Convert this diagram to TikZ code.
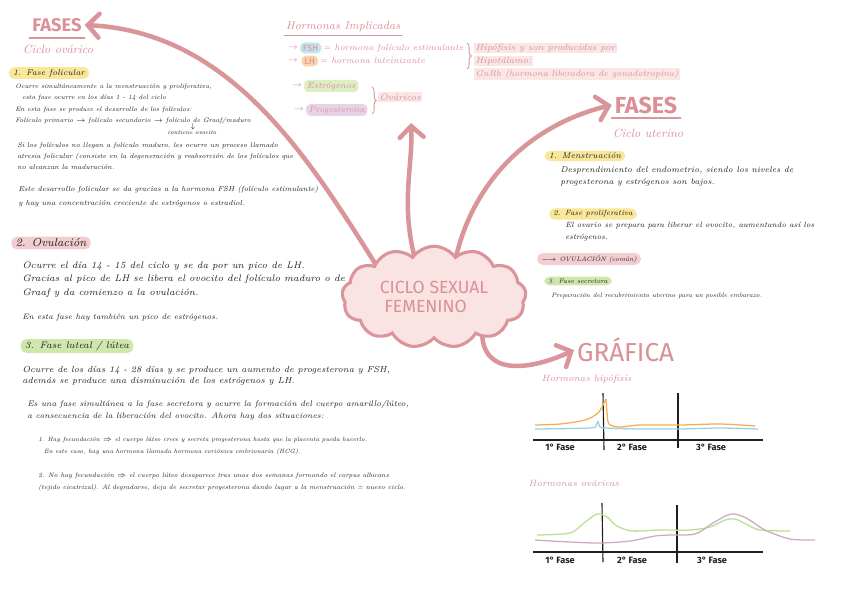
\documentclass[tikz,border=0pt]{standalone}
\usepackage{fontspec}
\setsansfont{Fira Sans}
\usetikzlibrary{shapes.symbols,arrows.meta,positioning,decorations.pathreplacing}
\definecolor{pinkline}{HTML}{D9959A}
\definecolor{pinktxt}{HTML}{DB8F97}
\definecolor{cloudfill}{HTML}{FAE3E3}
\definecolor{hlyellow}{HTML}{FAE79A}
\definecolor{hlpink}{HTML}{F3CDCF}
\definecolor{hlgreen}{HTML}{CFE7AC}
\definecolor{hlblue}{HTML}{C2E6EE}
\definecolor{hlorange}{HTML}{FCD3A8}
\definecolor{hlviolet}{HTML}{E8D3E6}
\definecolor{pinkbg}{HTML}{FBE6E6}
\definecolor{lhline}{HTML}{F6AD55}
\definecolor{fshline}{HTML}{97D3DC}
\definecolor{estline}{HTML}{BDDD92}
\definecolor{progline}{HTML}{CFA9BC}
\definecolor{ink}{HTML}{1E1E1E}
\newcommand{\fsz}[2]{\fontsize{#1}{#2}\selectfont}
\tikzset{
  title/.style={font=\sffamily\bfseries\fsz{13}{14},text=pinktxt,inner sep=2pt},
  subtitle/.style={font=\itshape\fsz{8.5}{10},text=pinktxt,inner sep=1pt},
  hl/.style={rounded corners=4pt,inner xsep=3pt,inner ysep=1.5pt,text=ink,font=\itshape\fsz{6}{7}},
  body/.style={anchor=north west,align=left,inner sep=0pt,text=ink,font=\itshape\fsz{5}{8}},
  htext/.style={inner sep=1pt,text=pinktxt,font=\itshape\fsz{6.5}{8}},
  hbox/.style={rounded corners=3pt,inner xsep=2pt,inner ysep=1.5pt,text=pinktxt,font=\sffamily\fsz{6.5}{8}},
  cloudbox/.style={cloud,cloud puffs=13,cloud puff arc=110,aspect=2,draw=pinkline,fill=cloudfill,
                   line width=2.2pt,minimum width=4.6cm,minimum height=2.3cm,align=center,
                   text=pinktxt,font=\sffamily\fsz{12.5}{13}},
  bigarr/.style={draw=pinkline,line width=3.2pt,line cap=round,
                 -{Straight Barb[length=8pt,width=17pt,line cap=round]}},
  uline/.style={draw=pinkline,line width=1.4pt,line cap=round},
  brc/.style={draw=pinkline,line width=0.6pt,decorate,decoration={brace,amplitude=3pt}},
  axis/.style={draw=ink,line width=0.8pt},
  glab/.style={font=\sffamily\bfseries\fsz{6.5}{7},text=ink,inner sep=0pt},
  curve/.style={line width=0.9pt},
}
\begin{document}
\begin{tikzpicture}[x=0.025cm,y=-0.025cm]
  \fill[white] (0,0) rectangle (848,600);
  \useasboundingbox (0,0) rectangle (848,600);

  %% Centre
  \node[cloudbox] (cloud) at (434,297) {CICLO SEXUAL\\\hspace*{-12pt}FEMENINO};

  %% Left: ciclo ovarico
  \node[title]                     (fasesL)  at (57,25)  {FASES};
  \draw[uline] ([yshift=-2pt]fasesL.south west) -- ([yshift=-2pt]fasesL.south east);
  \node[subtitle]                  (ovarico) at (58,49)  {Ciclo ovárico};
  \node[hl,fill=hlyellow]          (fol)     at (49,73)  {1. Fase folicular};
  \node[body,font=\itshape\fsz{4.6}{7.9}] (folA) at (15,84) {Ocurre simultáneamente a la menstruación y proliferativa,\\
    \hspace*{5pt}esta fase ocurre en los días 1 - 14 del ciclo\\
    En esta fase se produce el desarrollo de los folículos:\\
    Folículo primario $\rightarrow$ folículo secundario $\rightarrow$ folículo de Graaf/maduro};
  \node[body,anchor=center,font=\fsz{3.5}{4}] (ovoArr) at (193,127) {$\downarrow$};
  \node[body,anchor=center,font=\itshape\fsz{4.2}{5}] (ovo) at (192,133) {contiene ovocito};
  \node[body,font=\itshape\fsz{4.85}{8}] (folB) at (17,142) {Si los folículos no llegan a folículo maduro, les ocurre un proceso llamado\\
    atresia folicular (consiste en la degeneración y reabsorción de los folículos que\\
    no alcanzan la maduración.};
  \node[body,font=\itshape\fsz{5.2}{10}] (folC) at (18,186) {Este desarrollo folicular se da gracias a la hormona FSH (folículo estimulante)\\
    y hay una concentración creciente de estrógenos o estradiol.};

  \node[hl,fill=hlpink,font=\itshape\fsz{8.3}{9}] (ovu) at (51,243) {2. Ovulación};
  \node[body,font=\itshape\fsz{6.7}{9.3}] (ovuA) at (22,262) {Ocurre el día 14 - 15 del ciclo y se da por un pico de LH.\\
    Gracias al pico de LH se libera el ovocito del folículo maduro o de\\
    Graaf y da comienzo a la ovulación.};
  \node[body,font=\itshape\fsz{5.6}{8}] (ovuB) at (22,314) {En esta fase hay también un pico de estrógenos.};

  \node[hl,fill=hlgreen,font=\itshape\fsz{6.8}{8}] (lut) at (77,346) {3. Fase luteal / lútea};
  \node[body,font=\itshape\fsz{6.25}{8}] (lutA) at (22,366) {Ocurre de los días 14 - 28 días y se produce un aumento de progesterona y FSH,\\
    además se produce una disminución de los estrógenos y LH.};
  \node[body,font=\itshape\fsz{5.75}{8.5}] (lutB) at (27,400) {Es una fase simultánea a la fase secretora y ocurre la formación del cuerpo amarillo/lúteo,\\
    a consecuencia de la liberación del ovocito. Ahora hay dos situaciones:};
  \node[body,font=\itshape\fsz{4.35}{8.5}] (lutC) at (38,437) {1. Hay fecundación $\Rightarrow$ el cuerpo lúteo crece y secreta progesterona hasta que la placenta pueda hacerlo.\\
    \hspace*{4pt}En este caso, hay una hormona llamada hormona coriónica embrionaria (HCG).};
  \node[body,font=\itshape\fsz{4.6}{8.5}] (lutD) at (38,473) {2. No hay fecundación $\Rightarrow$ el cuerpo lúteo desaparece tras unas dos semanas formando el corpus albicans\\
    (tejido cicatrizal). Al degradarse, deja de secretar progesterona dando lugar a la menstruación = nuevo ciclo.};

  %% Top: hormonas
  \node[subtitle,font=\itshape\fsz{8}{9}] (horm) at (343,27) {Hormonas Implicadas};
  \draw[uline,line width=0.7pt] ([yshift=-1pt]horm.south west) -- ([yshift=-1pt]horm.south east);
  \node[htext]                          (fshArr) at (293,48) {$\to$};
  \node[hbox,fill=hlblue,right=0pt of fshArr]   (fsh)    {FSH};
  \node[htext,font=\itshape\fsz{6.1}{8},right=0pt of fsh] (fshTxt) {= hormona folículo estimulante};
  \node[htext]                          (lhArr)  at (293,61) {$\to$};
  \node[hbox,fill=hlorange,right=1pt of lhArr]  (lh)     {LH};
  \node[htext,font=\itshape\fsz{6.1}{8},right=0pt of lh]  (lhTxt)  {= hormona luteinizante};
  \draw[brc] (467,43) -- (467,69);
  \node[htext,fill=pinkbg,anchor=west,font=\itshape\fsz{6.4}{8}] (hipA) at (474,48) {Hipófisis y son producidas por};
  \node[htext,fill=pinkbg,anchor=west,font=\itshape\fsz{6.4}{8}] (hipB) at (474,61) {Hipotálamo:};
  \node[htext,fill=pinkbg,anchor=west,font=\itshape\fsz{6.1}{8}] (hipC) at (474,74) {GnRh (hormona liberadora de gonadotropina)};
  \node[htext]                          (estArr) at (297,86) {$\to$};
  \node[hbox,fill=hlgreen!70,font=\itshape\fsz{6.3}{8},right=0pt of estArr] (est) {Estrógenos};
  \node[htext]                          (proArr) at (299,110) {$\to$};
  \node[hbox,fill=hlviolet,font=\itshape\fsz{6}{8},right=0pt of proArr]   (pro) {Progesterona};
  \draw[brc] (372,87) -- (372,114);
  \node[htext,fill=pinkbg,anchor=west] (ovar) at (378,97) {Ováricos};
  \coordinate (hormTip) at (411,123);

  %% Right: ciclo uterino
  \node[title,font=\sffamily\bfseries\fsz{16.5}{17}] (fasesR) at (646,105) {FASES};
  \draw[uline] ([yshift=-1pt]fasesR.south west) -- ([yshift=-1pt]fasesR.south east);
  \node[subtitle]                   (uterino) at (648,133) {Ciclo uterino};
  \node[hl,fill=hlyellow]           (men)     at (585,156) {1. Menstruación};
  \node[body,font=\itshape\fsz{5.9}{8.5}] (menA) at (560,166) {Desprendimiento del endometrio, siendo los niveles de\\
    progesterona y estrógenos son bajos.};
  \node[hl,fill=hlyellow,font=\itshape\fsz{5.4}{7}] (pro2) at (593,214) {2. Fase proliferativa};
  \node[body,font=\itshape\fsz{5.4}{8.5}] (pro2A) at (565,222) {El ovario se prepara para liberar el ovocito, aumentando así los\\
    estrógenos.};
  \node[hl,fill=hlpink,font=\itshape\fsz{4.6}{6}] (ovR) at (589,259) {$\longrightarrow$ OVULACIÓN (común)};
  \node[hl,fill=hlgreen,font=\itshape\fsz{4.8}{6}] (sec) at (578,281) {3. Fase secretora};
  \node[body,font=\itshape\fsz{4.5}{6}] (secA) at (551,293) {Preparación del recubrimiento uterino para un posible embarazo.};

  %% Grafica
  \node[font=\sffamily\fsz{18.5}{19},text=pinktxt,anchor=west,inner sep=2pt] (graf) at (574,350) {GRÁFICA};
  \node[subtitle,font=\itshape\fsz{6.5}{7},anchor=west] (hipo) at (540,379) {Hormonas hipófisis};
  \draw[axis] (533,440) -- (763,440);
  \draw[axis] (603,393) -- (604,450);
  \draw[axis] (678,393) -- (678,448);
  \node[glab] (g1a) at (560,447) {1° Fase};
  \node[glab] (g1b) at (632,447) {2° Fase};
  \node[glab] (g1c) at (711,447) {3° Fase};
  \draw[curve,lhline] plot[smooth,tension=0.5] coordinates {(535,425) (560,424) (585,420) (598,413) (604,403) (606,399)};
  \draw[curve,lhline] plot[smooth,tension=0.5] coordinates {(606,399) (607,412) (609,424) (620,427) (640,425) (680,425) (720,424) (755,426)};
  \draw[curve,fshline] plot[smooth,tension=0.5] coordinates {(535,429) (590,428) (596,425) (598,421)};
  \draw[curve,fshline] plot[smooth,tension=0.5] coordinates {(598,421) (600,427) (606,428) (640,429) (680,429) (720,428) (758,429)};

  \node[subtitle,font=\itshape\fsz{6.5}{7},anchor=west] (ovas) at (527,483) {Hormonas ováricas};
  \draw[axis] (533,552) -- (763,552);
  \draw[axis] (602,503) -- (603,562);
  \draw[axis] (677,505) -- (677,563);
  \node[glab] (g2a) at (560,560) {1° Fase};
  \node[glab] (g2b) at (632,560) {2° Fase};
  \node[glab] (g2c) at (712,560) {3° Fase};
  \draw[curve,estline] plot[smooth] coordinates {(537,535) (570,533) (584,523) (597,514) (607,517) (617,526) (632,531) (660,530) (690,530) (710,527) (725,520) (735,519) (746,524) (760,530) (790,531)};
  \draw[curve,progline] plot[smooth] coordinates {(535,540) (570,542) (600,543) (630,541) (655,536) (670,535) (695,534) (713,523) (731,514) (746,518) (765,530) (790,539) (815,540)};

  %% Arrows out of the cloud
  \draw[bigarr] (cloud.150) .. controls (305,152) and (228,32) .. (fasesL.east);
  \draw[bigarr] (cloud.115) .. controls (401,200) and (413,165) .. (hormTip);
  \draw[bigarr] (cloud.62) .. controls (475,180) and (530,125) .. (fasesR.west);
  \draw[bigarr] (cloud.-40) .. controls (487,380) and (540,366) .. (graf.west);
\end{tikzpicture}
\end{document}
